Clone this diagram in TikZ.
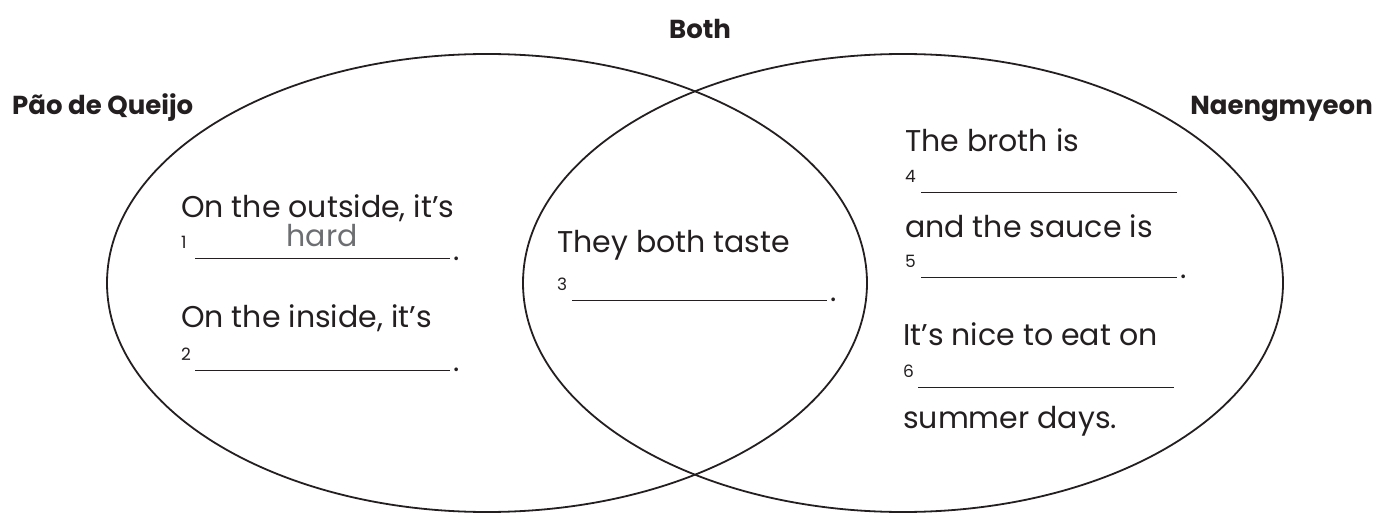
\documentclass[tikz,border=0pt]{standalone}
\usepackage{fontspec}
\setmainfont{Poppins}
\usetikzlibrary{positioning}
\definecolor{inkdark}{HTML}{231F20}
\definecolor{answergray}{HTML}{6D6E71}

\begin{document}
\begin{tikzpicture}[x=1pt,y=-1pt,
  ring/.style={draw=inkdark,line width=1.8pt},
  head/.style={font=\fontsize{26}{30}\selectfont\bfseries,text=inkdark,inner sep=0pt},
  prompt/.style={font=\fontsize{30}{36}\selectfont,text=inkdark,anchor=base west,inner sep=0pt},
  num/.style={font=\fontsize{17}{20}\selectfont,text=inkdark,anchor=base west,inner sep=0pt},
  blank/.style={draw=inkdark,line width=1pt},
  stop/.style={font=\fontsize{30}{36}\selectfont,text=inkdark,anchor=base west,inner sep=0pt}]
  \useasboundingbox (0,0) rectangle (1387,513);
  % the two circles
  \draw[ring] (487,283) ellipse [x radius=380pt, y radius=229pt];
  \draw[ring] (903,283) ellipse [x radius=380pt, y radius=229pt];
  % headings
  \node[head,anchor=base west] (pao) at (12,115) {Pão de Queijo};
  \node[head,anchor=base] (both) at (700,39) {Both};
  \node[head,anchor=base east] (naeng) at (1373,115) {Naengmyeon};
  % left side
  \node[prompt] (outside) at (181,218) {On the outside, it’s};
  \node[num] (n1) at (181,249) {1};
  \coordinate (b1s) at (195,259);
  \coordinate (b1e) at (450,259);
  \draw[blank] (b1s) -- (b1e);
  \node[stop] (p1) at (453,260) {.};
  \node[prompt,anchor=base,text=answergray] (hard) at (322,247) {hard};
  \node[prompt] (inside) at (181,327) {On the inside, it’s};
  \node[num] (n2) at (181,360) {2};
  \coordinate (b2s) at (195,370);
  \coordinate (b2e) at (450,370);
  \draw[blank] (b2s) -- (b2e);
  \node[stop] (p2) at (453,371) {.};
  % middle
  \node[prompt] (taste) at (557,253) {They both taste};
  \node[num] (n3) at (557,290) {3};
  \coordinate (b3s) at (572,300);
  \coordinate (b3e) at (827,300);
  \draw[blank] (b3s) -- (b3e);
  \node[stop] (p3) at (830,301) {.};
  % right side
  \node[prompt] (broth) at (905,152) {The broth is};
  \node[num] (n4) at (905,183) {4};
  \coordinate (b4s) at (921,193);
  \coordinate (b4e) at (1177,193);
  \draw[blank] (b4s) -- (b4e);
  \node[prompt] (sauce) at (905,237) {and the sauce is};
  \node[num] (n5) at (905,267) {5};
  \coordinate (b5s) at (921,277);
  \coordinate (b5e) at (1177,277);
  \draw[blank] (b5s) -- (b5e);
  \node[stop] (p5) at (1180,278) {.};
  \node[prompt] (nice) at (903,345) {It’s nice to eat on};
  \node[num] (n6) at (903,377) {6};
  \coordinate (b6s) at (918,387);
  \coordinate (b6e) at (1174,387);
  \draw[blank] (b6s) -- (b6e);
  \node[prompt] (summer) at (903,428) {summer days.};
\end{tikzpicture}
\end{document}
